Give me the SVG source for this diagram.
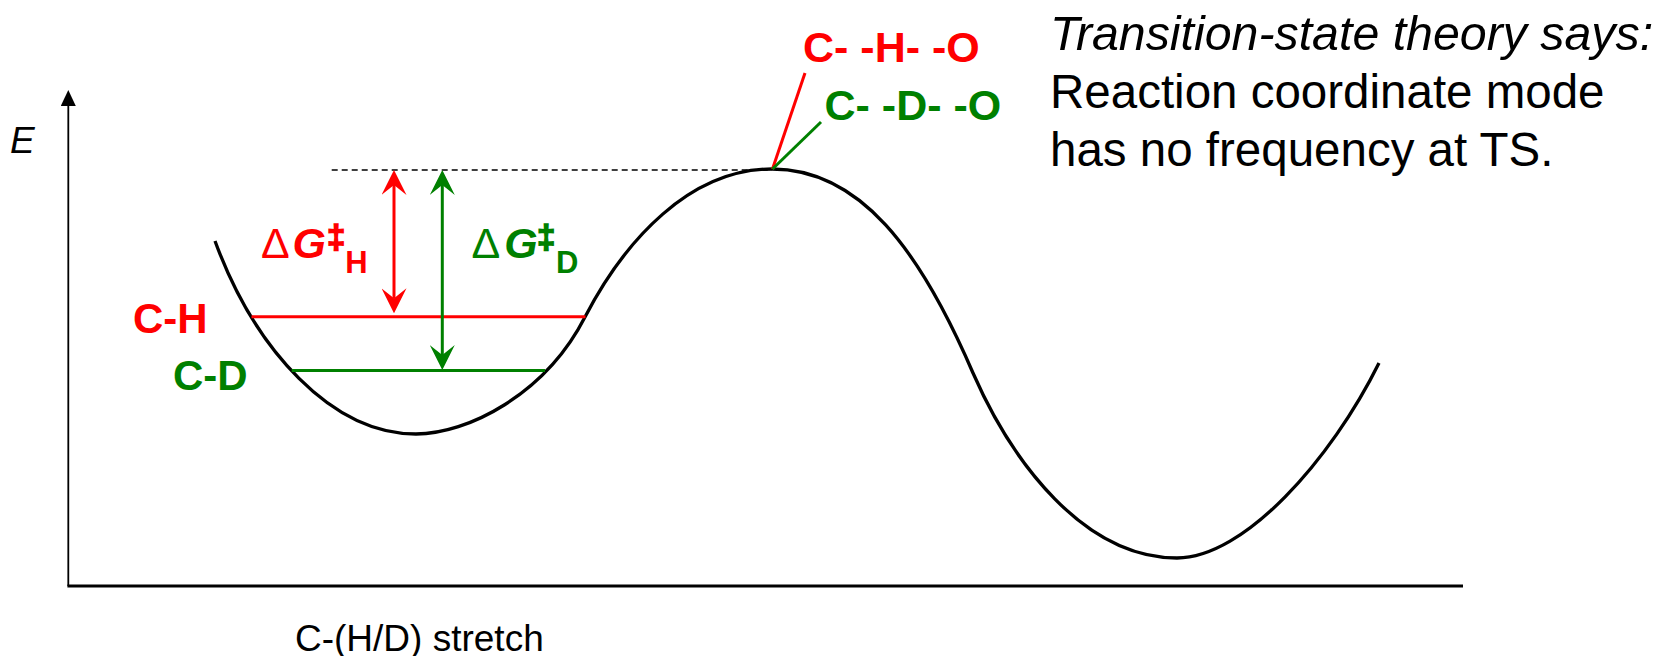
<svg xmlns="http://www.w3.org/2000/svg" width="1659" height="656" viewBox="0 0 1659 656">
<style>
text{font-family:"Liberation Sans",Arial,sans-serif}
.b{font-weight:bold}
.red{fill:#FF0000}
.grn{fill:#008000}
.curve{fill:none;stroke:#000;stroke-width:3.3}
.axis{stroke:#000;fill:none}
.lvl{stroke-width:3;fill:none}
</style>
<defs>
<marker id="axArrow" markerUnits="userSpaceOnUse" viewBox="0 0 16 15" refX="0" refY="7.5" markerWidth="16" markerHeight="15" orient="auto">
<path d="M0,0 L16,7.5 L0,15 Z" fill="#000"/>
</marker>
<marker id="arRed" markerUnits="userSpaceOnUse" viewBox="0 0 25 25" refX="10" refY="12.5" markerWidth="25" markerHeight="25" orient="auto-start-reverse">
<path d="M0,0 L25,12.5 L0,25 L10,12.5 Z" fill="#FF0000"/>
</marker>
<marker id="arGrn" markerUnits="userSpaceOnUse" viewBox="0 0 25 25" refX="10" refY="12.5" markerWidth="25" markerHeight="25" orient="auto-start-reverse">
<path d="M0,0 L25,12.5 L0,25 L10,12.5 Z" fill="#008000"/>
</marker>
</defs>

<g id="axes">
<line class="axis" x1="68.3" y1="586" x2="68.3" y2="106" stroke-width="1.8" marker-end="url(#axArrow)"/>
<line class="axis" x1="67.4" y1="586" x2="1463" y2="586" stroke-width="3"/>
<text x="10" y="153" font-size="37" font-style="italic">E</text>
<text x="295" y="651" font-size="37">C-(H/D) stretch</text>
</g>

<g id="curve">
<path class="curve" d="M215,241 C255,350 332,434 416,434 C467,434 545,395 585,317 C625,240 690,169 772,169 C860,169 920,250 973,373 C1012,462 1084,558 1177,558 C1244,558 1331,460 1379,363"/>
</g>

<g id="connectors">
<line x1="331.7" y1="170" x2="772" y2="170" stroke="#000" stroke-width="1.7" stroke-dasharray="6,4"/>
<line class="lvl" x1="251.5" y1="316.7" x2="585.5" y2="316.7" stroke="#FF0000"/>
<line class="lvl" x1="291.7" y1="370.5" x2="545" y2="370.5" stroke="#008000"/>
<line x1="394" y1="185" x2="394" y2="298.3" stroke="#FF0000" stroke-width="3" marker-start="url(#arRed)" marker-end="url(#arRed)"/>
<line x1="442.3" y1="185" x2="442.3" y2="355" stroke="#008000" stroke-width="3" marker-start="url(#arGrn)" marker-end="url(#arGrn)"/>
<line x1="805" y1="73" x2="772.5" y2="169" stroke="#FF0000" stroke-width="3"/>
<line x1="821" y1="122" x2="772.5" y2="169" stroke="#008000" stroke-width="3"/>
</g>

<g id="label-CH">
<text class="b red" x="133" y="333" font-size="42">C-H</text>
</g>
<g id="label-CD">
<text class="b grn" x="173" y="390" font-size="42">C-D</text>
</g>

<g id="label-dGH">
<text class="red" y="258.3" font-size="43"><tspan x="261">Δ</tspan><tspan x="292.5" class="b" font-style="italic">G</tspan><tspan x="327" y="248" class="b" font-size="33" stroke="#FF0000" stroke-width="1.6">‡</tspan><tspan x="345.3" y="272.7" class="b" font-size="31">H</tspan></text>
</g>
<g id="label-dGD">
<text class="grn" y="258.3" font-size="43"><tspan x="471.6">Δ</tspan><tspan x="504.2" class="b" font-style="italic">G</tspan><tspan x="537" y="248" class="b" font-size="33" stroke="#008000" stroke-width="1.6">‡</tspan><tspan x="556" y="272.7" class="b" font-size="31">D</tspan></text>
</g>

<g id="label-CHO">
<text class="b red" x="803" y="62" font-size="43">C- -H- -O</text>
</g>
<g id="label-CDO">
<text class="b grn" x="824.5" y="119.5" font-size="43">C- -D- -O</text>
</g>

<g id="note">
<text x="1050" y="50" font-size="48.3" font-style="italic">Transition-state theory says:</text>
<text x="1050" y="107.5" font-size="47.5">Reaction coordinate mode</text>
<text x="1050" y="166" font-size="47.5">has no frequency at TS.</text>
</g>
</svg>
